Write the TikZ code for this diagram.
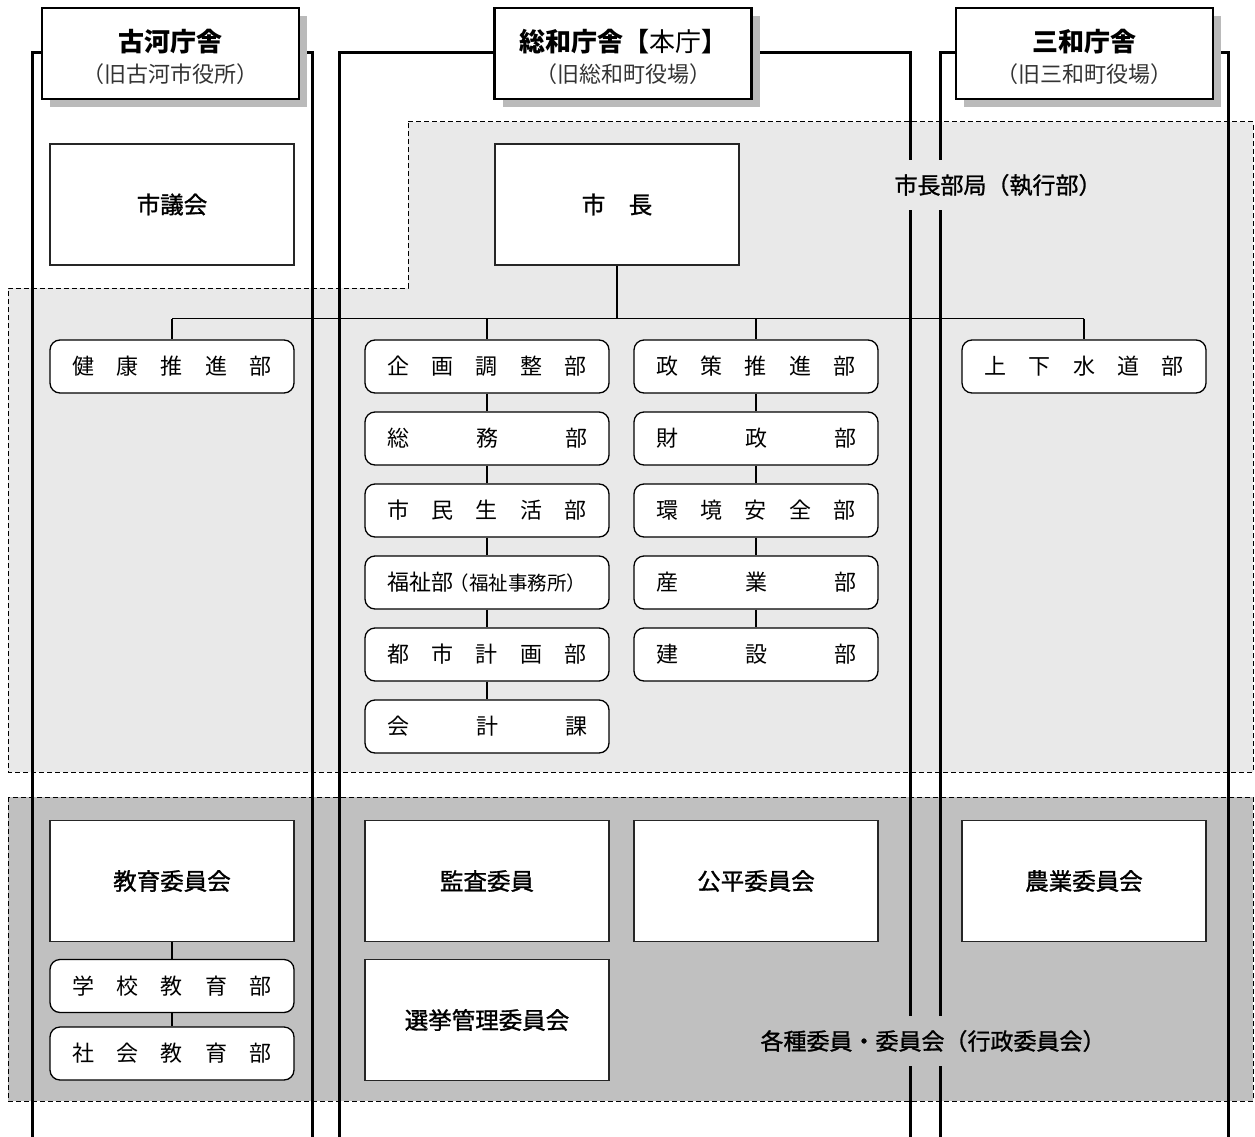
\documentclass[tikz,border=0pt]{standalone}
\usepackage{fontspec}
\setmainfont{Noto Sans CJK JP}
\newfontfamily\medfont{Noto Sans CJK JP}[FakeBold=1.2]
\usetikzlibrary{shadows}
\definecolor{execgray}{RGB}{233,233,233}
\definecolor{boardgray}{RGB}{192,192,192}
\definecolor{shadowgray}{RGB}{186,186,186}
\newcommand{\spreadtext}[1]{\makebox[200pt]{#1}}

\begin{document}
\begin{tikzpicture}[x=1pt,y=-1pt]
\useasboundingbox (0,0) rectangle (1255,1137);

% shaded areas
\path [fill=execgray, draw=black, line width=1pt, dash pattern=on 5pt off 3pt]
    (408,122) -- (1253,122) -- (1253,772) -- (8,772) -- (8,288) -- (408,288) -- cycle;
\path [fill=boardgray, draw=black, line width=1pt, dash pattern=on 5pt off 3pt]
    (8,797) rectangle (1253,1101);

% buildings
\begin{scope}[line width=3pt]
    \draw (32,1137) -- (32,53) -- (312,53) -- (312,1137);
    \draw (339,1137) -- (339,53) -- (910,53) -- (910,1137);
    \draw (940,1137) -- (940,53) -- (1228,53) -- (1228,1137);
\end{scope}

\begin{scope}[every node/.style={inner xsep=0pt, minimum height=50pt,
              font=\medfont\fontsize{23}{27}\selectfont}]
    \node [fill=execgray] (execlabel) at (998,185) {市長部局（執行部）};
    \node [fill=boardgray] (boardlabel) at (933,1041) {各種委員・委員会（行政委員会）};
\end{scope}

% building names
\begin{scope}[every node/.style={draw, fill=white, line width=2.8pt,
              minimum width=257pt, minimum height=91pt, align=center,
              drop shadow={shadow xshift=8pt, shadow yshift=-8pt, fill=shadowgray, opacity=1},
              font=\fontsize{22}{26}\selectfont}]
    \node (koga) at (170.5,53.5) {\rule{0pt}{30pt}{\bfseries\fontsize{26}{30}\selectfont 古河庁舎}\\[5pt]\textcolor{black!80}{（旧古河市役所）}};
    \node (sowa) at (623,53.5) {\rule{0pt}{30pt}{\fontsize{26}{30}\selectfont\bfseries 総和庁舎【\mdseries 本庁\bfseries 】}\\[5pt]\textcolor{black!80}{（旧総和町役場）}};
    \node (sanwa) at (1084.5,53.5) {\rule{0pt}{30pt}{\bfseries\fontsize{26}{30}\selectfont 三和庁舎}\\[5pt]\textcolor{black!80}{（旧三和町役場）}};
\end{scope}

% main boxes
\begin{scope}[every node/.style={draw=black!85, fill=white, line width=1.2pt,
              minimum width=244pt, minimum height=121pt,
              font=\medfont\fontsize{23.5}{27}\selectfont}]
    \node (gikai) at (172,204.5) {市議会};
    \node (mayor) at (617,204.5) {市\hspace{1em}長};
    \node (kyoiku) at (172,881) {教育委員会};
    \node (kansa) at (487,881) {監査委員};
    \node (kohei) at (756,881) {公平委員会};
    \node (nogyo) at (1084,881) {農業委員会};
    \node (senkyo) at (487,1020) {選挙管理委員会};
\end{scope}

% departments
\begin{scope}[every node/.style={draw=black, fill=white, line width=1.3pt, rounded corners=10pt,
              minimum width=244pt, minimum height=53pt,
              font=\fontsize{22}{26}\selectfont}]
    \node (kenko) at (172,366.5) {\spreadtext{健\hfill 康\hfill 推\hfill 進\hfill 部}};
    \node (kikaku) at (487,366.5) {\spreadtext{企\hfill 画\hfill 調\hfill 整\hfill 部}};
    \node (somu) at (487,438.5) {\spreadtext{総\hfill 務\hfill 部}};
    \node (shimin) at (487,510.5) {\spreadtext{市\hfill 民\hfill 生\hfill 活\hfill 部}};
    \node (fukushi) at (487,582.5) {\spreadtext{福祉部\hspace{-4pt}{\fontsize{19.5}{22}\selectfont（福祉事務所）}}};
    \node (toshi) at (487,654.5) {\spreadtext{都\hfill 市\hfill 計\hfill 画\hfill 部}};
    \node (kaikei) at (487,726.5) {\spreadtext{会\hfill 計\hfill 課}};
    \node (seisaku) at (756,366.5) {\spreadtext{政\hfill 策\hfill 推\hfill 進\hfill 部}};
    \node (zaisei) at (756,438.5) {\spreadtext{財\hfill 政\hfill 部}};
    \node (kankyo) at (756,510.5) {\spreadtext{環\hfill 境\hfill 安\hfill 全\hfill 部}};
    \node (sangyo) at (756,582.5) {\spreadtext{産\hfill 業\hfill 部}};
    \node (kensetsu) at (756,654.5) {\spreadtext{建\hfill 設\hfill 部}};
    \node (josui) at (1084,366.5) {\spreadtext{上\hfill 下\hfill 水\hfill 道\hfill 部}};
    \node (gakko) at (172,986) {\spreadtext{学\hfill 校\hfill 教\hfill 育\hfill 部}};
    \node (shakai) at (172,1053.5) {\spreadtext{社\hfill 会\hfill 教\hfill 育\hfill 部}};
\end{scope}

% connectors
\begin{scope}[line width=1.2pt, every edge/.style={draw=black, line width=1.2pt}]
    \draw (mayor.south) -- ++(0,53) coordinate (bus);
    \draw (kenko.north |- bus) -- (josui.north |- bus);
    \path [-] (kenko.north |- bus) edge (kenko.north);
    \path [-] (kikaku.north |- bus) edge (kikaku.north);
    \path [-] (seisaku.north |- bus) edge (seisaku.north);
    \path [-] (josui.north |- bus) edge (josui.north);
    \path [-] (kikaku) edge (somu);
    \path [-] (somu) edge (shimin);
    \path [-] (shimin) edge (fukushi);
    \path [-] (fukushi) edge (toshi);
    \path [-] (toshi) edge (kaikei);
    \path [-] (seisaku) edge (zaisei);
    \path [-] (zaisei) edge (kankyo);
    \path [-] (kankyo) edge (sangyo);
    \path [-] (sangyo) edge (kensetsu);
    \path [-] (kyoiku) edge (gakko);
    \path [-] (gakko) edge (shakai);
\end{scope}
\end{tikzpicture}
\end{document}
